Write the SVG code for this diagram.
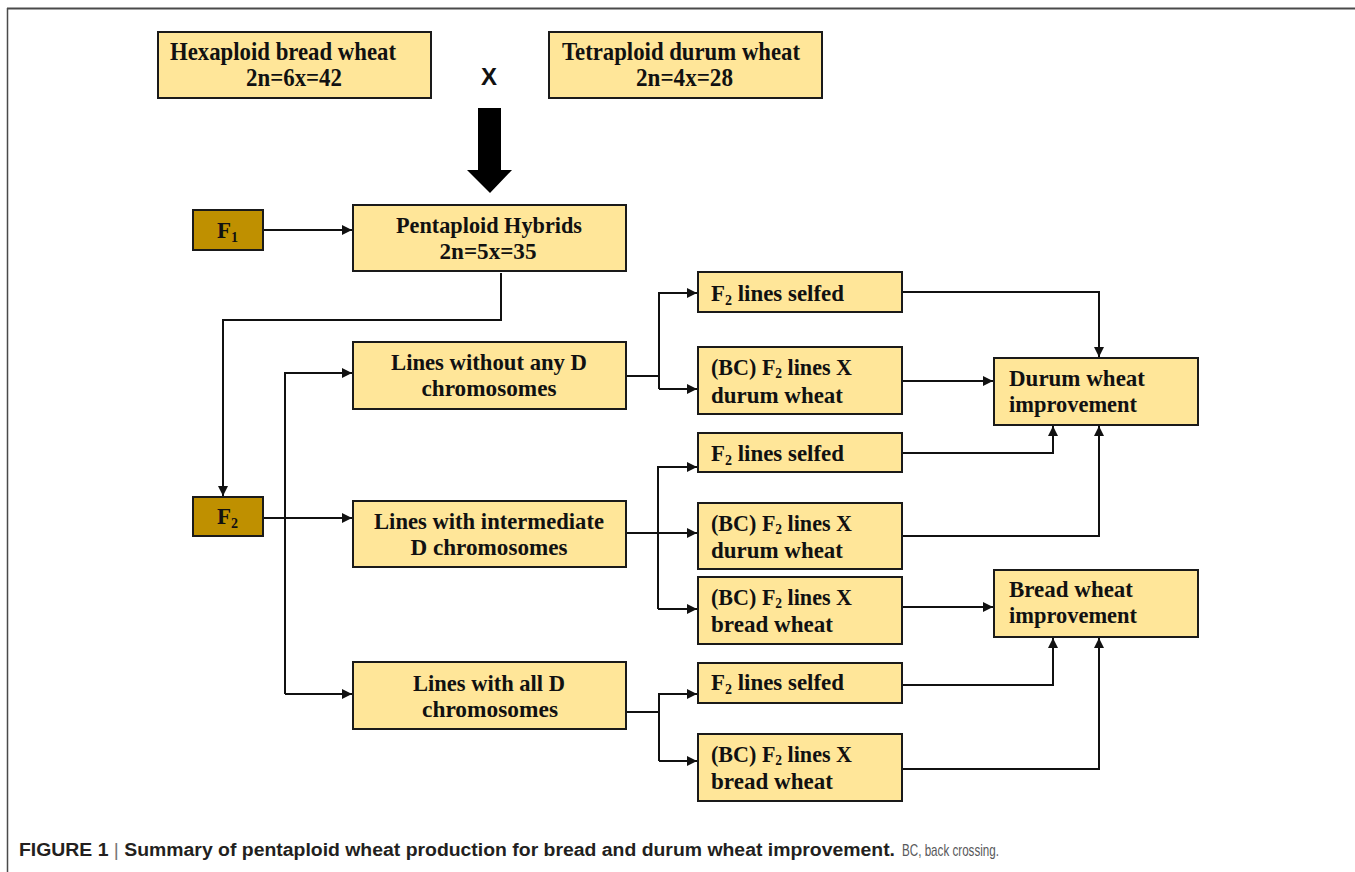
<svg xmlns="http://www.w3.org/2000/svg" width="1355" height="872" viewBox="0 0 1355 872">
<defs>
<style>
.box{fill:#FFE699;stroke:#1a1a1a;stroke-width:2}
.fbox{fill:#BF9000;stroke:#1a1a1a;stroke-width:2}
.t{font-family:"Liberation Serif","Times New Roman",serif;font-weight:bold;font-size:23px;fill:#111}
.tt{font-family:"Liberation Serif","Times New Roman",serif;font-weight:bold;font-size:25px;fill:#111}
.c{text-anchor:middle}
.sub{font-size:14px}
.con{fill:none;stroke:#111;stroke-width:2}
.cap{font-family:"Liberation Sans",Arial,sans-serif;font-size:18px}
</style>
<marker id="ah" viewBox="0 0 10 10" refX="10" refY="5" markerWidth="10" markerHeight="10" markerUnits="userSpaceOnUse" orient="auto">
<path d="M0,0 L10,5 L0,10 z" fill="#111"/>
</marker>
</defs>
<rect width="1355" height="872" fill="#fff"/>
<g id="frame">
<line x1="7" y1="8.5" x2="1355" y2="8.5" stroke="#4a4a4a" stroke-width="2"/>
<line x1="7.5" y1="8" x2="7.5" y2="872" stroke="#4a4a4a" stroke-width="1.5"/>
</g>

<g id="connectors">
<polygon points="478,108 501,108 501,170 512,170 490,193 467,170 478,170" fill="#000"/>
<path class="con" d="M263 230 H352" marker-end="url(#ah)"/>
<path class="con" d="M501 273 V320 H223 V496" marker-end="url(#ah)"/>
<path class="con" d="M263 518 H352" marker-end="url(#ah)"/>
<path class="con" d="M285 694 V373 H352" marker-end="url(#ah)"/>
<path class="con" d="M285 694 H352" marker-end="url(#ah)"/>
<path class="con" d="M626 376 H659"/>
<path class="con" d="M659 389 V293 H697" marker-end="url(#ah)"/>
<path class="con" d="M659 389 H697" marker-end="url(#ah)"/>
<path class="con" d="M626 533 H697" marker-end="url(#ah)"/>
<path class="con" d="M658 609 V467 H697" marker-end="url(#ah)"/>
<path class="con" d="M658 609 H697" marker-end="url(#ah)"/>
<path class="con" d="M626 712 H659"/>
<path class="con" d="M659 761 V694 H697" marker-end="url(#ah)"/>
<path class="con" d="M659 761 H697" marker-end="url(#ah)"/>
<path class="con" d="M902 292 H1099 V357" marker-end="url(#ah)"/>
<path class="con" d="M902 381 H993" marker-end="url(#ah)"/>
<path class="con" d="M902 453 H1053 V426" marker-end="url(#ah)"/>
<path class="con" d="M902 536 H1099 V426" marker-end="url(#ah)"/>
<path class="con" d="M902 607 H993" marker-end="url(#ah)"/>
<path class="con" d="M902 685 H1053 V638" marker-end="url(#ah)"/>
<path class="con" d="M902 769 H1099 V638" marker-end="url(#ah)"/>
</g>

<g id="hexaploid">
<rect class="box" x="158" y="32" width="273" height="66"/>
<text class="tt" x="170" y="60" textLength="226" lengthAdjust="spacingAndGlyphs">Hexaploid bread wheat</text>
<text class="tt" x="246" y="86" textLength="96" lengthAdjust="spacingAndGlyphs">2n=6x=42</text>
</g>
<g id="cross">
<text x="481" y="85" font-family="'Liberation Sans',Arial,sans-serif" font-weight="bold" font-size="23" fill="#111" textLength="16" lengthAdjust="spacingAndGlyphs">X</text>
</g>
<g id="tetraploid">
<rect class="box" x="549" y="32" width="273" height="66"/>
<text class="tt" x="562" y="60" textLength="238" lengthAdjust="spacingAndGlyphs">Tetraploid durum wheat</text>
<text class="tt" x="636" y="86" textLength="97" lengthAdjust="spacingAndGlyphs">2n=4x=28</text>
</g>

<g id="f1">
<rect class="fbox" x="193" y="210" width="70" height="40"/>
<text class="t" x="217" y="238">F<tspan class="sub" dy="4">1</tspan></text>
</g>
<g id="pentaploid">
<rect class="box" x="353" y="205" width="273" height="66"/>
<text class="t c" x="489" y="233" textLength="186" lengthAdjust="spacingAndGlyphs">Pentaploid Hybrids</text>
<text class="t c" x="488" y="259" textLength="97" lengthAdjust="spacingAndGlyphs">2n=5x=35</text>
</g>
<g id="f2">
<rect class="fbox" x="193" y="497" width="70" height="39"/>
<text class="t" x="217" y="524">F<tspan class="sub" dy="4">2</tspan></text>
</g>
<g id="without-d">
<rect class="box" x="353" y="342" width="273" height="67"/>
<text class="t c" x="489" y="370" textLength="196" lengthAdjust="spacingAndGlyphs">Lines without any D</text>
<text class="t c" x="489" y="396" textLength="135" lengthAdjust="spacingAndGlyphs">chromosomes</text>
</g>
<g id="intermediate-d">
<rect class="box" x="353" y="501" width="273" height="66"/>
<text class="t c" x="489" y="529" textLength="230" lengthAdjust="spacingAndGlyphs">Lines with intermediate</text>
<text class="t c" x="489" y="555" textLength="157" lengthAdjust="spacingAndGlyphs">D chromosomes</text>
</g>
<g id="all-d">
<rect class="box" x="353" y="662" width="273" height="67"/>
<text class="t c" x="489" y="691" textLength="152" lengthAdjust="spacingAndGlyphs">Lines with all D</text>
<text class="t c" x="490" y="717" textLength="136" lengthAdjust="spacingAndGlyphs">chromosomes</text>
</g>

<g id="selfed-1">
<rect class="box" x="698" y="272" width="204" height="40"/>
<text class="t" x="711" y="301" textLength="133" lengthAdjust="spacingAndGlyphs">F<tspan class="sub" dy="4">2</tspan><tspan dy="-4"> lines selfed</tspan></text>
</g>
<g id="bc-durum-1">
<rect class="box" x="698" y="347" width="204" height="67"/>
<text class="t" x="711" y="375" textLength="141" lengthAdjust="spacingAndGlyphs">(BC) F<tspan class="sub" dy="3">2</tspan><tspan dy="-3"> lines X</tspan></text>
<text class="t" x="711" y="403" textLength="132" lengthAdjust="spacingAndGlyphs">durum wheat</text>
</g>
<g id="durum-improvement">
<rect class="box" x="994" y="358" width="204" height="67"/>
<text class="t" x="1009" y="386" textLength="136" lengthAdjust="spacingAndGlyphs">Durum wheat</text>
<text class="t" x="1009" y="412" textLength="128" lengthAdjust="spacingAndGlyphs">improvement</text>
</g>
<g id="selfed-2">
<rect class="box" x="698" y="433" width="204" height="39"/>
<text class="t" x="711" y="461" textLength="133" lengthAdjust="spacingAndGlyphs">F<tspan class="sub" dy="4">2</tspan><tspan dy="-4"> lines selfed</tspan></text>
</g>
<g id="bc-durum-2">
<rect class="box" x="698" y="503" width="204" height="66"/>
<text class="t" x="711" y="531" textLength="141" lengthAdjust="spacingAndGlyphs">(BC) F<tspan class="sub" dy="3">2</tspan><tspan dy="-3"> lines X</tspan></text>
<text class="t" x="711" y="558" textLength="132" lengthAdjust="spacingAndGlyphs">durum wheat</text>
</g>
<g id="bc-bread-1">
<rect class="box" x="698" y="577" width="204" height="67"/>
<text class="t" x="711" y="605" textLength="141" lengthAdjust="spacingAndGlyphs">(BC) F<tspan class="sub" dy="3">2</tspan><tspan dy="-3"> lines X</tspan></text>
<text class="t" x="711" y="632" textLength="122" lengthAdjust="spacingAndGlyphs">bread wheat</text>
</g>
<g id="bread-improvement">
<rect class="box" x="994" y="570" width="204" height="67"/>
<text class="t" x="1009" y="597" textLength="124" lengthAdjust="spacingAndGlyphs">Bread wheat</text>
<text class="t" x="1009" y="623" textLength="128" lengthAdjust="spacingAndGlyphs">improvement</text>
</g>
<g id="selfed-3">
<rect class="box" x="698" y="663" width="204" height="40"/>
<text class="t" x="711" y="690" textLength="133" lengthAdjust="spacingAndGlyphs">F<tspan class="sub" dy="4">2</tspan><tspan dy="-4"> lines selfed</tspan></text>
</g>
<g id="bc-bread-2">
<rect class="box" x="698" y="734" width="204" height="67"/>
<text class="t" x="711" y="762" textLength="141" lengthAdjust="spacingAndGlyphs">(BC) F<tspan class="sub" dy="3">2</tspan><tspan dy="-3"> lines X</tspan></text>
<text class="t" x="711" y="789" textLength="122" lengthAdjust="spacingAndGlyphs">bread wheat</text>
</g>

<g id="caption">
<text class="cap" x="19" y="856" font-weight="bold" fill="#231f20" textLength="876" lengthAdjust="spacingAndGlyphs">FIGURE 1 <tspan font-weight="normal" fill="#777">|</tspan> Summary of pentaploid wheat production for bread and durum wheat improvement.</text>
<text x="902" y="856" font-family="'Liberation Sans',Arial,sans-serif" font-size="17" fill="#58595b" textLength="97" lengthAdjust="spacingAndGlyphs">BC, back crossing.</text>
</g>
</svg>
